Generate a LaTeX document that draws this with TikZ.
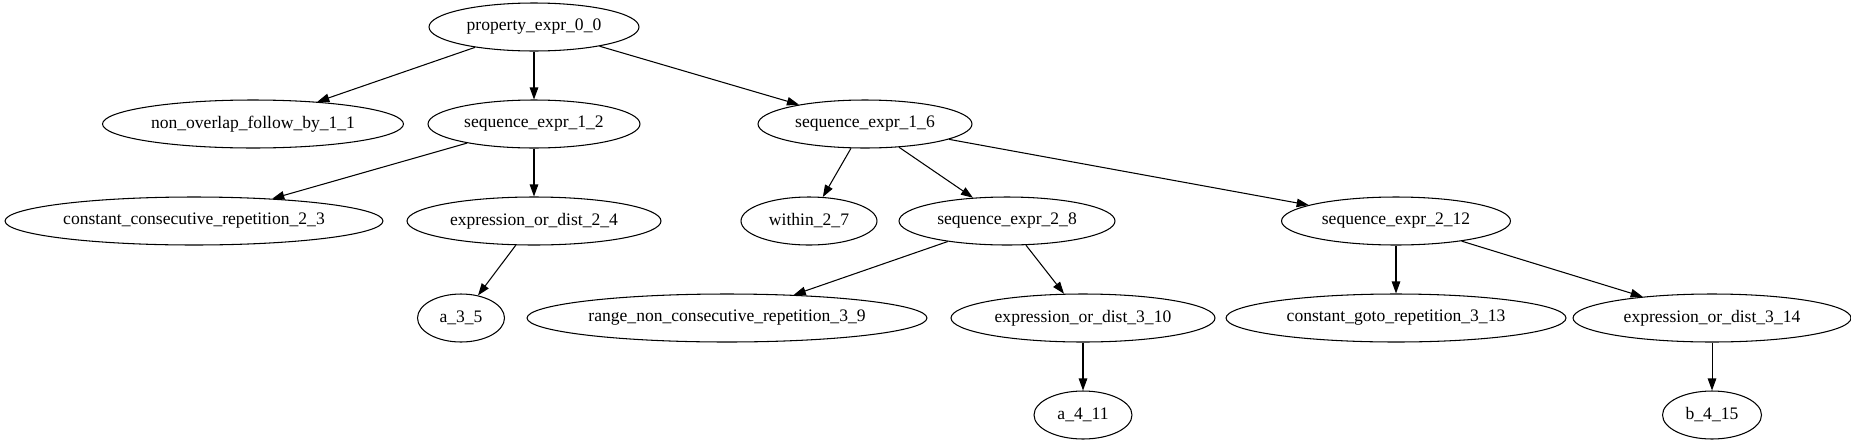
\documentclass[tikz,border=0pt]{standalone}
\usepackage{fontspec}
\setmainfont{Liberation Serif}
\usetikzlibrary{arrows.meta, shapes.geometric}

\tikzset{
  tnode/.style={draw, ellipse, line width=0.6pt, inner xsep=-0.8cm, inner ysep=0.04cm,
    minimum height=0.96cm, font=\fontsize{10}{12}\selectfont},
  tedge/.style={-{Triangle[length=0.24cm, width=0.17cm]}, line width=0.6pt}
}

\begin{document}
\begin{tikzpicture}[x=0.02cm, y=-0.02cm]
    \useasboundingbox (0,0) rectangle (1851,443);
    % rank 0
    \node[tnode, minimum width=4.2cm] (p00) at (534,27) {property\_expr\_0\_0};
    % rank 1
    \node[tnode, minimum width=6.02cm] (n11) at (253,124) {non\_overlap\_follow\_by\_1\_1};
    \node[tnode, minimum width=4.24cm] (s12) at (534,124) {sequence\_expr\_1\_2};
    \node[tnode, minimum width=4.28cm] (s16) at (865,124) {sequence\_expr\_1\_6};
    % rank 2
    \node[tnode, minimum width=7.56cm] (c23) at (194,221) {constant\_consecutive\_repetition\_2\_3};
    \node[tnode, minimum width=5.08cm] (e24) at (534,221) {expression\_or\_dist\_2\_4};
    \node[tnode, minimum width=2.72cm] (w27) at (809,221) {within\_2\_7};
    \node[tnode, minimum width=4.32cm] (s28) at (1007,221) {sequence\_expr\_2\_8};
    \node[tnode, minimum width=4.58cm] (s212) at (1396,221) {sequence\_expr\_2\_12};
    % rank 3
    \node[tnode, minimum width=1.74cm] (a35) at (461,318) {a\_3\_5};
    \node[tnode, minimum width=8cm] (r39) at (727,318) {range\_non\_consecutive\_repetition\_3\_9};
    \node[tnode, minimum width=5.28cm] (e310) at (1083,318) {expression\_or\_dist\_3\_10};
    \node[tnode, minimum width=6.8cm] (g313) at (1396,318) {constant\_goto\_repetition\_3\_13};
    \node[tnode, minimum width=5.56cm] (e314) at (1712,318) {expression\_or\_dist\_3\_14};
    % rank 4
    \node[tnode, minimum width=1.96cm] (a411) at (1083,415) {a\_4\_11};
    \node[tnode, minimum width=1.98cm] (b415) at (1712,415) {b\_4\_15};

    \foreach \from/\to in {p00/n11, p00/s12, p00/s16, s12/c23, s12/e24,
        s16/w27, s16/s28, s16/s212, e24/a35, s28/r39, s28/e310,
        s212/g313, s212/e314, e310/a411, e314/b415}
      \draw[tedge] (\from) -- (\to);
\end{tikzpicture}
\end{document}
